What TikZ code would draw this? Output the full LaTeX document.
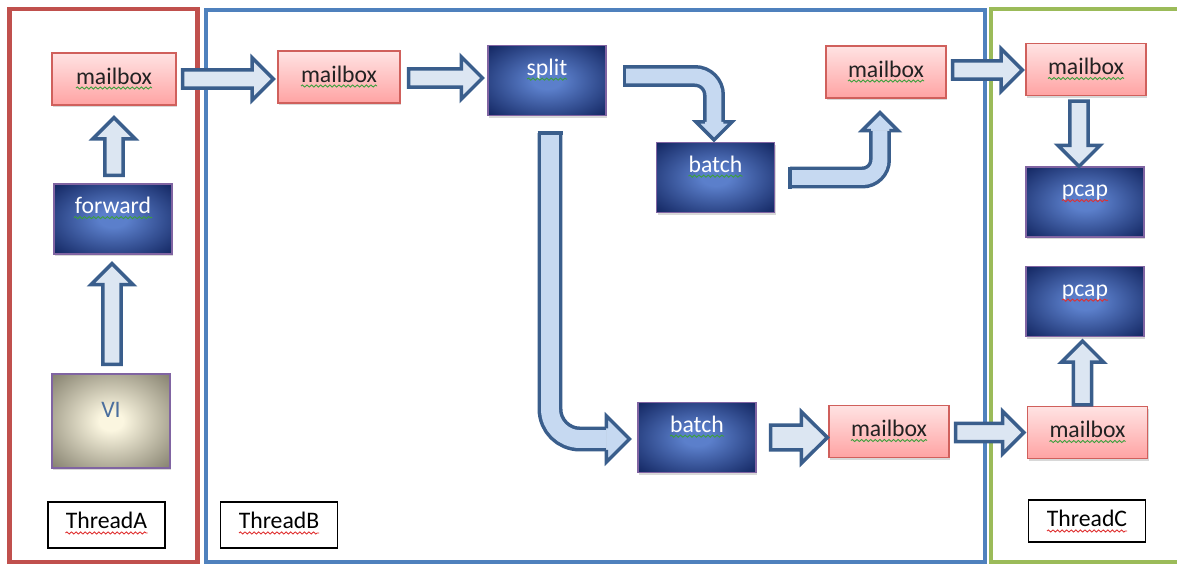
\documentclass[tikz,border=0pt]{standalone}
\usepackage{fontspec}
\setmainfont{Carlito}
\usetikzlibrary{calc,shadows,decorations.pathmorphing}

\definecolor{frameA}{HTML}{C0504D}
\definecolor{frameB}{HTML}{4F81BD}
\definecolor{frameC}{HTML}{9BBB59}
\definecolor{mbtop}{HTML}{FFE3E3}
\definecolor{mbbot}{HTML}{FFA3A3}
\definecolor{mbline}{HTML}{D0605C}
\definecolor{mbtext}{HTML}{222222}
\definecolor{opin}{HTML}{5B7FCB}
\definecolor{opout}{HTML}{11245F}
\definecolor{opline}{HTML}{8064A2}
\definecolor{viin}{HTML}{FBF6E0}
\definecolor{viout}{HTML}{827E6C}
\definecolor{vitext}{HTML}{4A6E9E}
\definecolor{arrline}{HTML}{3A5E8C}
\definecolor{arrfill}{HTML}{DCE6F2}
\definecolor{arrbent}{HTML}{C6D9F1}
\definecolor{spellgreen}{HTML}{3CA03C}
\definecolor{spellred}{HTML}{E03030}

% box glows
\pgfdeclareradialshading{opglow}{\pgfpoint{0bp}{0bp}}{color(0bp)=(opin); color(6bp)=(opin); color(36bp)=(opout); color(50bp)=(opout)}
\pgfdeclareradialshading{viglow}{\pgfpoint{0bp}{0bp}}{color(0bp)=(viin); color(5bp)=(viin); color(36bp)=(viout); color(50bp)=(viout)}

\newcommand\labelfont{\fontsize{13.5pt}{16pt}\selectfont}
% block arrow sizes
\def\fatw{5.25pt}
\def\fatH{12pt}
\def\fath{12pt}

\tikzset{
  mbox/.style={rectangle, draw=mbline, line width=0.8pt, top color=mbtop, bottom color=mbbot,
    minimum width=2.4cm, minimum height=1.04cm, inner ysep=0pt, text height=17.6pt, text depth=11.9pt,
    text=mbtext, font=\labelfont, drop shadow={opacity=0.3, shadow xshift=0.6pt, shadow yshift=-1.2pt}},
  opbox/.style={rectangle, draw=opline, line width=0.6pt, shading=opglow,
    minimum width=2.36cm, minimum height=1.4cm, inner ysep=0pt, text height=16.8pt, text depth=22.9pt,
    text=white, font=\labelfont, drop shadow={opacity=0.3, shadow xshift=0.6pt, shadow yshift=-1.2pt}},
  vibox/.style={rectangle, draw=opline, line width=0.6pt, shading=viglow,
    minimum width=2.36cm, minimum height=1.88cm, inner ysep=0pt, text height=24.7pt, text depth=28.6pt,
    text=vitext, font=\labelfont, drop shadow={opacity=0.3, shadow xshift=0.6pt, shadow yshift=-1.2pt}},
  tlabel/.style={rectangle, draw=black, line width=0.8pt, fill=white,
    minimum width=2.34cm, minimum height=0.92cm, inner ysep=0pt, text height=15.3pt, text depth=10.8pt,
    font=\labelfont},
  fat/.style={draw=arrline, fill=arrfill, line width=2pt,
    to path={($(\tikztostart)!\fatw!90:(\tikztotarget)$)
      -- ($(\tikztotarget)!\fath!(\tikztostart)!\fatw!-90:(\tikztostart)$)
      -- ($(\tikztotarget)!\fath!(\tikztostart)!\fatH!-90:(\tikztostart)$)
      -- (\tikztotarget)
      -- ($(\tikztotarget)!\fath!(\tikztostart)!\fatH!90:(\tikztostart)$)
      -- ($(\tikztotarget)!\fath!(\tikztostart)!\fatw!90:(\tikztostart)$)
      -- ($(\tikztostart)!\fatw!-90:(\tikztotarget)$) -- cycle}},
  fatbig/.code={\def\fatw{7pt}\def\fatH{14.6pt}\def\fath{14.7pt}},
  bent/.style={draw=arrline, line width=2pt, double=arrbent, double distance=8.5pt},
  bentwide/.style={double distance=10.2pt},
  benthead/.style={draw=arrline, fill=arrbent, line width=2pt},
  bentcap/.style={draw=arrline, line width=2pt},
  spellg/.style={spellgreen, line width=0.5pt, decorate, decoration={snake, amplitude=0.6pt, segment length=2.6pt}},
  spellr/.style={spellred, line width=0.5pt, decorate, decoration={snake, amplitude=0.6pt, segment length=2.6pt}},
}

\begin{document}
\begin{tikzpicture}[x=0.02cm, y=-0.02cm]
\useasboundingbox (0,0) rectangle (1177,565);
\clip (0,0) rectangle (1177,565);
\fill[white] (0,0) rectangle (1177,565);
% thread frames
\draw[frameA, line width=2.8pt] (9.5,9) rectangle (197.5,562);
\draw[frameB, line width=2.4pt] (206,10) rectangle (985,562);
\draw[frameC, line width=2.4pt] (991,9) rectangle (1190,562);

% ThreadA
\node[mbox, minimum width=2.48cm] (ma) at (114,79) {mailbox};
\node[opbox] (fw) at (113,219) {forward};
\node[vibox] (vi) at (111,421) {VI};
\node[tlabel] (ta) at (106.5,525) {ThreadA};

% ThreadB
\node[mbox, minimum width=2.44cm] (mb) at (339,77) {mailbox};
\node[opbox] (sp) at (547,80.5) {split};
\node[opbox] (bt1) at (715.5,177.5) {batch};
\node[mbox] (mb2) at (886,72) {mailbox};
\node[opbox] (bt2) at (697,437.5) {batch};
\node[mbox] (mb3) at (889,431.5) {mailbox};
\node[tlabel] (tb) at (279,525) {ThreadB};

% ThreadC
\node[mbox] (mc1) at (1086,69.5) {mailbox};
\node[opbox] (pc1) at (1085,202) {pcap};
\node[opbox] (pc2) at (1085,301.5) {pcap};
\node[mbox] (mc2) at (1087.5,432.5) {mailbox};
\node[tlabel, minimum height=0.84cm, text depth=8.5pt] (tc) at (1087,521) {ThreadC};

% spell check waves
\foreach \n in {ma,mb,mb2,mb3,mc1,mc2}
  \draw[spellg] ($(\n.base)+(-38,4)$) -- ($(\n.base)+(38,4)$);
\draw[spellg] ($(fw.base)+(-39,4)$) -- ($(fw.base)+(39,4)$);
\draw[spellg] ($(sp.base)+(-20,4)$) -- ($(sp.base)+(20,4)$);
\draw[spellg] ($(bt1.base)+(-27,4)$) -- ($(bt1.base)+(27,4)$);
\draw[spellg] ($(bt2.base)+(-27,4)$) -- ($(bt2.base)+(27,4)$);
\draw[spellr] ($(pc1.base)+(-23,4)$) -- ($(pc1.base)+(23,4)$);
\draw[spellr] ($(pc2.base)+(-23,4)$) -- ($(pc2.base)+(23,4)$);
\draw[spellr] ($(ta.base)+(-41,4)$) -- ($(ta.base)+(41,4)$);
\draw[spellr] ($(tb.base)+(-40,4)$) -- ($(tb.base)+(40,4)$);
\draw[spellr] ($(tc.base)+(-40,4)$) -- ($(tc.base)+(40,4)$);

% straight block arrows
\draw[fat] ($(vi.north)+(1,-9)$) to ($(vi.north |- fw.south)+(1,9)$);
\draw[fat] ($(fw.north)+(1,-8)$) to ($(fw.north |- ma.south)+(1,12)$);
\draw[fat] ($(ma.east)+(6,0)$) to ($(ma.east -| mb.west)+(-4,0)$);
\draw[fat] ($(mb.east)+(8,1)$) to ($(mb.east -| sp.west)+(-5,1)$);
\draw[fat, fatbig] ($(bt2.east)+(14,0)$) to ($(bt2.east -| mb3.west)+(-1,0)$);
\draw[fat] ($(mb2.east)+(6,-2)$) to ($(mb2.east -| mc1.west)+(-3,-2)$);
\draw[fat] ($(mb3.east)+(6,1)$) to ($(mb3.east -| mc2.west)+(-3,1)$);
\draw[fat] ($(mc1.south)+(-7,5)$) to ($(mc1.south |- pc1.north)+(-7,0)$);
\draw[fat] ($(mc2.north)+(-5,-1)$) to ($(mc2.north |- pc2.south)+(-5,4)$);

% bent arrow split -> batch
\coordinate (c1s) at ($(sp.east)+(18,-4.5)$);
\coordinate (c1n) at ($(bt1.north)+(-1.5,-20)$);
\draw[bent, rounded corners=10.8pt] (c1s) -| (c1n);
\draw[benthead] ($(c1n)+(-9.25,0)$) -- ($(c1n)+(-18,0)$) -- ($(c1n)+(0,18)$) -- ($(c1n)+(18,0)$) -- ($(c1n)+(9.25,0)$);
\draw[bentcap] ($(c1s)+(0,-11)$) -- ($(c1s)+(0,11)$);

% bent arrow batch -> mailbox
\coordinate (c2s) at ($(bt1.east)+(15,0)$);
\coordinate (c2n) at ($(mb2.south)+(-6,32)$);
\draw[bent, rounded corners=10pt] (c2s) -| (c2n);
\draw[benthead] ($(c2n)+(-9.25,0)$) -- ($(c2n)+(-18,0)$) -- ($(c2n)+(0,-18)$) -- ($(c2n)+(18,0)$) -- ($(c2n)+(9.25,0)$);
\draw[bentcap] ($(c2s)+(0,-11)$) -- ($(c2s)+(0,11)$);

% long bent arrow split -> batch
\coordinate (c3s) at ($(sp.south)+(3,17)$);
\coordinate (c3n) at ($(bt2.west)+(-31,1.5)$);
\draw[bent, bentwide, rounded corners=17pt] (c3s) |- (c3n);
\draw[benthead] ($(c3n)+(0,-10.75)$) -- ($(c3n)+(0,-23)$) -- ($(c3n)+(23,0)$) -- ($(c3n)+(0,23)$) -- ($(c3n)+(0,10.75)$);
\draw[bentcap] ($(c3s)+(-12.5,0)$) -- ($(c3s)+(12.5,0)$);
\end{tikzpicture}
\end{document}
